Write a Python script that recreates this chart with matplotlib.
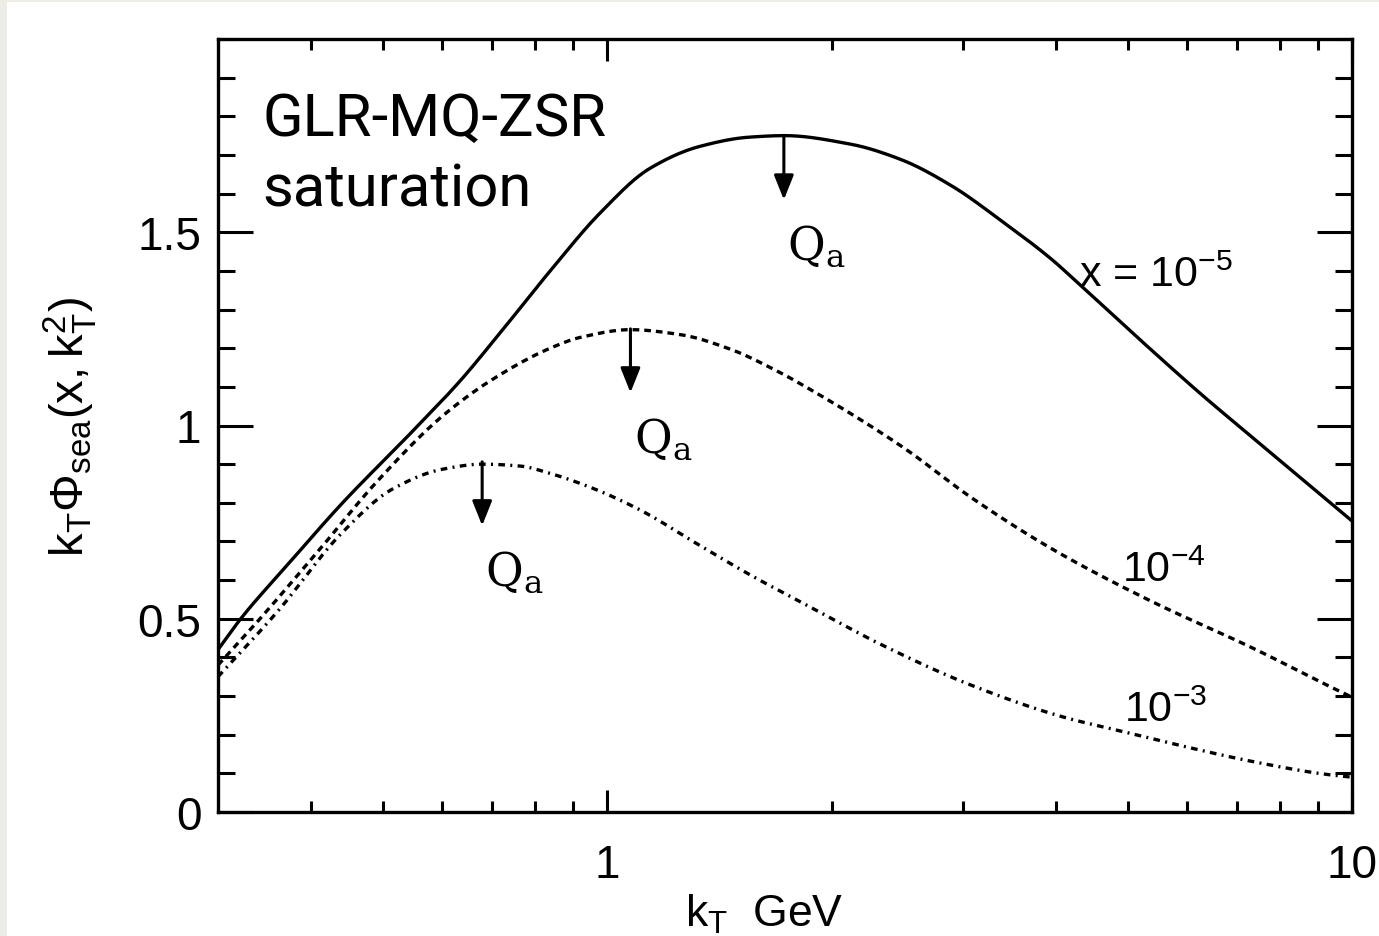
import numpy as np
import matplotlib
matplotlib.use("Agg")
import matplotlib.pyplot as plt
from matplotlib.patches import Rectangle
from matplotlib.ticker import FixedLocator, MultipleLocator, NullFormatter

plt.rcParams['font.family'] = ['Liberation Sans', 'DejaVu Sans']
plt.rcParams['mathtext.default'] = 'regular'

# Curves: kT (GeV) and kT*Phi_sea
kt_5 = [0.30, 0.324, 0.371, 0.441, 0.543, 0.634, 0.718, 0.838, 0.978, 1.14, 1.33,
        1.55, 1.73, 2.12, 2.48, 2.90, 3.38, 3.95, 4.29, 5.38, 6.28, 7.34, 8.58, 10.0]
phi_5 = [0.42, 0.507, 0.637, 0.80, 0.978, 1.115, 1.24, 1.40, 1.55, 1.665, 1.722,
         1.746, 1.75, 1.728, 1.688, 1.62, 1.53, 1.43, 1.368, 1.195, 1.08, 0.97, 0.86, 0.753]

kt_4 = [0.30, 0.338, 0.411, 0.49, 0.601, 0.702, 0.838, 0.92, 1.074, 1.254, 1.46,
        1.69, 1.82, 2.48, 3.10, 3.96, 5.38, 7.34, 9.49, 10.0]
phi_4 = [0.38, 0.49, 0.68, 0.854, 1.025, 1.12, 1.20, 1.228, 1.248, 1.235, 1.198,
         1.141, 1.107, 0.947, 0.81, 0.68, 0.545, 0.425, 0.318, 0.297]

kt_3 = [0.30, 0.36, 0.441, 0.515, 0.601, 0.68, 0.764, 0.838, 0.949, 1.10, 1.33,
        1.55, 1.82, 2.35, 3.10, 4.09, 4.95, 6.16, 7.29, 9.18, 10.0]
phi_3 = [0.35, 0.517, 0.724, 0.836, 0.887, 0.90, 0.895, 0.876, 0.84, 0.784, 0.69,
         0.615, 0.543, 0.43, 0.326, 0.246, 0.207, 0.163, 0.132, 0.098, 0.09]

# Q_a arrows: position of each peak
qa_kt = [1.726, 1.074, 0.679]
qa_top = [1.749, 1.25, 0.906]

curve_labels = ['x = $10^{-5}$', '$10^{-4}$', '$10^{-3}$']
label_kt = [4.30, 4.91, 4.94]
label_y = [1.36, 0.598, 0.235]


def pchip(kt, phi, n=500):
    # shape-preserving cubic through the points, in log kT
    x = np.log10(kt)
    y = np.asarray(phi, float)
    h = np.diff(x)
    d = np.diff(y) / h
    m = np.zeros_like(y)
    for i in range(1, len(y) - 1):
        if d[i - 1] * d[i] > 0:
            w1 = 2 * h[i] + h[i - 1]
            w2 = h[i] + 2 * h[i - 1]
            m[i] = (w1 + w2) / (w1 / d[i - 1] + w2 / d[i])
    m[0] = d[0]
    m[-1] = d[-1]
    xs = np.linspace(x[0], x[-1], n)
    idx = np.clip(np.searchsorted(x, xs) - 1, 0, len(h) - 1)
    t = (xs - x[idx]) / h[idx]
    h00 = 2 * t**3 - 3 * t**2 + 1
    h10 = t**3 - 2 * t**2 + t
    h01 = -2 * t**3 + 3 * t**2
    h11 = t**3 - t**2
    ys = h00 * y[idx] + h10 * h[idx] * m[idx] + h01 * y[idx + 1] + h11 * h[idx] * m[idx + 1]
    return 10 ** xs, ys


fig = plt.figure(figsize=(13.79, 9.37), dpi=100, facecolor='#edece6')
fig.patches.append(Rectangle((7 / 1379, 0), 1, 1 - 3 / 937, transform=fig.transFigure,
                             facecolor='white', edgecolor='none', zorder=-1))
ax = fig.add_axes([218 / 1379, 1 - 813 / 937, (1352 - 218) / 1379, (813 - 40) / 937])

x, y = pchip(kt_5, phi_5)
ax.plot(x, y, color='black', lw=2.4, ls='-')
x, y = pchip(kt_4, phi_4)
ax.plot(x, y, color='black', lw=2.4, ls=(0, (2.0, 1.5)))
x, y = pchip(kt_3, phi_3)
ax.plot(x, y, color='black', lw=2.4, ls=(0, (2.0, 1.6, 0.6, 1.6)))

for k, top in zip(qa_kt, qa_top):
    ax.annotate('', xy=(k, top - 0.165), xytext=(k, top),
                arrowprops=dict(arrowstyle='-|>,head_length=0.75,head_width=0.3',
                                mutation_scale=20, color='black', lw=2.2,
                                shrinkA=0, shrinkB=0))
    ax.text(k * 1.01, top - 0.285, 'Q$_a$', family='DejaVu Serif', fontsize=33,
            ha='left', va='center')

for lab, k, yy in zip(curve_labels, label_kt, label_y):
    ax.text(k, yy, lab, fontsize=31, ha='left', va='baseline')

ax.text(0.039, 0.934, 'GLR-MQ-ZSR\nsaturation', transform=ax.transAxes,
        family='Roboto', fontsize=43, ha='left', va='top', linespacing=1.3)

ax.set_xscale('log')
ax.set_xlim(0.3, 10)
ax.set_ylim(0, 2)
ax.xaxis.set_major_locator(FixedLocator([1, 10]))
ax.set_xticklabels(['1', '10'])
ax.xaxis.set_minor_locator(FixedLocator([0.4, 0.5, 0.6, 0.7, 0.8, 0.9, 2, 3, 4, 5, 6, 7, 8, 9]))
ax.xaxis.set_minor_formatter(NullFormatter())
ax.yaxis.set_major_locator(FixedLocator([0, 0.5, 1, 1.5]))
ax.set_yticklabels(['0', '0.5', '1', '1.5'])
ax.yaxis.set_minor_locator(MultipleLocator(0.1))

ax.tick_params(which='both', direction='in', top=True, right=True, width=2.2,
               labelsize=33, color='black')
ax.tick_params(axis='y', which='major', length=25, pad=12)
ax.tick_params(axis='y', which='minor', length=12)
ax.tick_params(axis='x', which='major', length=16, pad=22)
ax.tick_params(axis='x', which='minor', length=8)
for s in ax.spines.values():
    s.set_linewidth(2.4)

ax.set_xlabel('$k_T$  GeV', fontsize=32, labelpad=4, x=0.482)
ax.set_ylabel('$k_T\u03a6_{sea}(x,k_T^2)$', fontsize=34, labelpad=28)

fig.savefig('out.png', dpi=100, facecolor=fig.get_facecolor())
